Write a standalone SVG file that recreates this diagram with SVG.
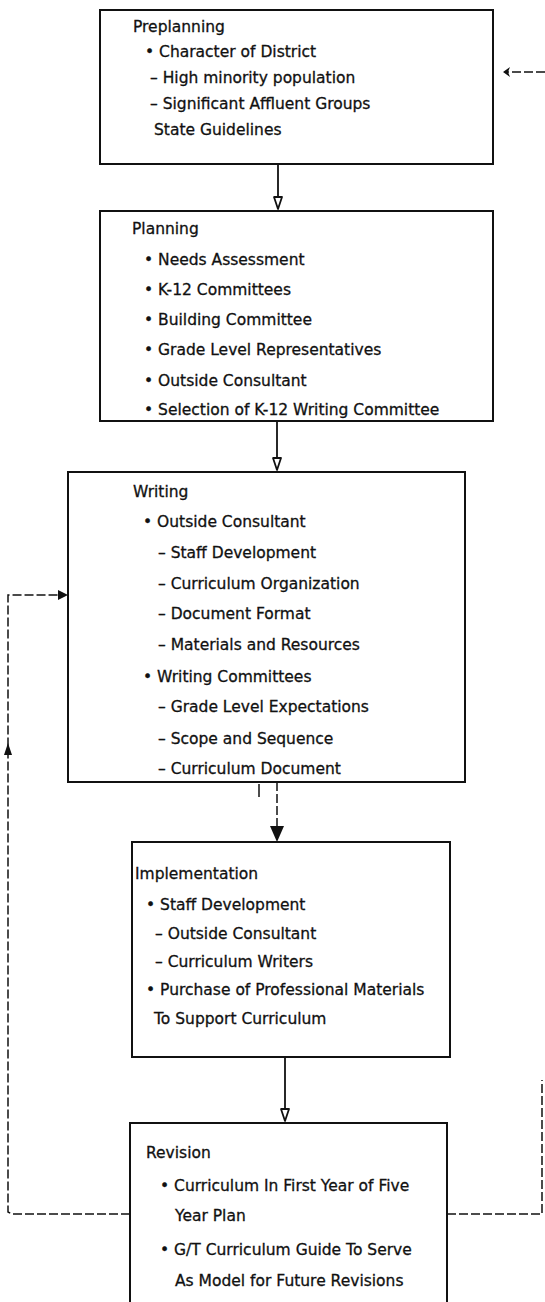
<svg xmlns="http://www.w3.org/2000/svg" width="545" height="1302" viewBox="0 0 545 1302">
<defs>
<style>
.box{fill:#fff;stroke:#111;stroke-width:2}
.t{font-family:"DejaVu Sans","Liberation Sans",sans-serif;font-size:15.5px;fill:#111;stroke:#111;stroke-width:0.3}
.c{fill:none;stroke:#111;stroke-width:1.8}
.d{fill:none;stroke:#111;stroke-width:1.5;stroke-dasharray:9 3}
.ha{fill:#fff;stroke:#111;stroke-width:1.8;stroke-linejoin:round}
.fa{fill:#111}
</style>
</defs>
<rect width="545" height="1302" fill="#fff"/>

<g id="connectors">
<line class="c" x1="278" y1="164" x2="278" y2="209"/>
<path class="ha" d="M274,197 L282,197 L278,209 Z"/>
<line class="c" x1="277" y1="421" x2="277" y2="470"/>
<path class="ha" d="M273,458 L281,458 L277,470 Z"/>
<line class="d" x1="277" y1="782" x2="277" y2="827"/>
<path class="fa" d="M270,826 L284,826 L277,842 Z"/>
<line x1="259" y1="784" x2="259" y2="797" stroke="#111" stroke-width="1.5"/>
<line class="c" x1="285" y1="1057" x2="285" y2="1121"/>
<path class="ha" d="M281,1109 L289,1109 L285,1121 Z"/>
<polyline class="d" points="130,1214 12,1214 8,1212 8,595 60,595"/>
<path class="fa" d="M58,590 L68,595 L58,600 Z"/>
<path class="fa" d="M8,743 L4,755 L12,755 Z"/>
<polyline class="d" points="447,1214 542,1214 542,1080"/>
<line class="d" x1="545" y1="72" x2="506" y2="72"/>
<path class="fa" d="M503,72 L510,67 L508,72 L510,77 Z"/>
</g>

<g id="preplanning">
<rect class="box" x="100" y="10" width="393" height="154"/>
<text class="t" x="133" y="32">Preplanning</text>
<text class="t" x="145" y="57">• Character of District</text>
<text class="t" x="150" y="83">– High minority population</text>
<text class="t" x="150" y="109">– Significant Affluent Groups</text>
<text class="t" x="154" y="135">State Guidelines</text>
</g>

<g id="planning">
<rect class="box" x="100" y="211" width="393" height="210"/>
<text class="t" x="132" y="234">Planning</text>
<text class="t" x="144" y="265">• Needs Assessment</text>
<text class="t" x="144" y="295">• K-12 Committees</text>
<text class="t" x="144" y="325">• Building Committee</text>
<text class="t" x="144" y="355">• Grade Level Representatives</text>
<text class="t" x="144" y="386">• Outside Consultant</text>
<text class="t" x="144" y="415">• Selection of K-12 Writing Committee</text>
</g>

<g id="writing">
<rect class="box" x="68" y="472" width="397" height="310"/>
<text class="t" x="133" y="497">Writing</text>
<text class="t" x="143" y="527">• Outside Consultant</text>
<text class="t" x="158" y="558">– Staff Development</text>
<text class="t" x="158" y="589">– Curriculum Organization</text>
<text class="t" x="158" y="619">– Document Format</text>
<text class="t" x="158" y="650">– Materials and Resources</text>
<text class="t" x="143" y="682">• Writing Committees</text>
<text class="t" x="158" y="712">– Grade Level Expectations</text>
<text class="t" x="158" y="744">– Scope and Sequence</text>
<text class="t" x="158" y="774">– Curriculum Document</text>
</g>

<g id="implementation">
<rect class="box" x="132" y="842" width="318" height="215"/>
<text class="t" x="135" y="879">Implementation</text>
<text class="t" x="146" y="910">• Staff Development</text>
<text class="t" x="155" y="939">– Outside Consultant</text>
<text class="t" x="155" y="967">– Curriculum Writers</text>
<text class="t" x="146" y="995">• Purchase of Professional Materials</text>
<text class="t" x="154" y="1024">To Support Curriculum</text>
</g>

<g id="revision">
<path class="box" d="M130,1305 L130,1123 L447,1123 L447,1305"/>
<text class="t" x="146" y="1158">Revision</text>
<text class="t" x="160" y="1191">• Curriculum In First Year of Five</text>
<text class="t" x="175" y="1221">Year Plan</text>
<text class="t" x="160" y="1255">• G/T Curriculum Guide To Serve</text>
<text class="t" x="175" y="1286">As Model for Future Revisions</text>
</g>
</svg>
